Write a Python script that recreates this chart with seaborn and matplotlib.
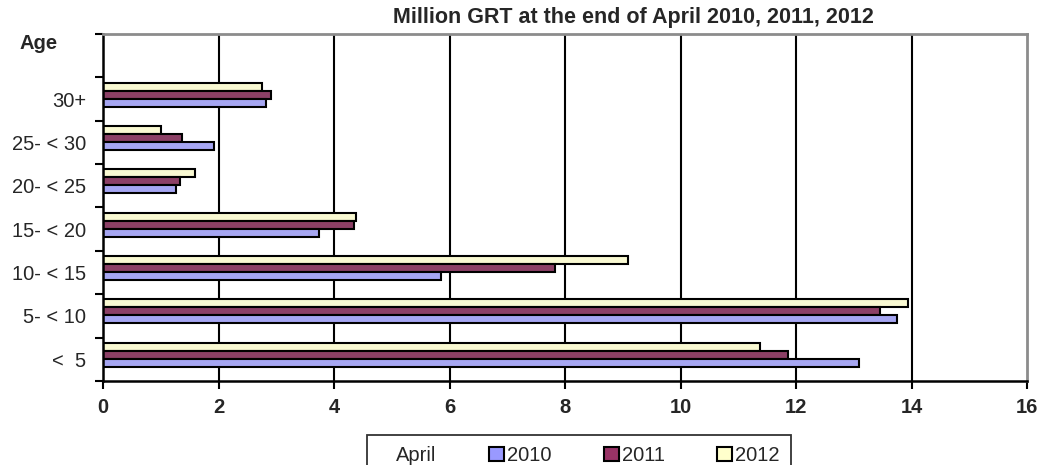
import matplotlib
matplotlib.use("Agg")
import matplotlib.pyplot as plt
import seaborn as sns
import pandas as pd
from matplotlib.patches import Patch

categories = ["30+", "25- < 30", "20- < 25", "15- < 20", "10- < 15", "5- < 10", "<  5"]
years = ["2010", "2011", "2012"]
v2010 = [2.82, 1.92, 1.26, 3.74, 5.85, 13.75, 13.09]
v2011 = [2.91, 1.37, 1.34, 4.34, 7.83, 13.45, 11.86]
v2012 = [2.75, 1.01, 1.59, 4.38, 9.09, 13.94, 11.38]
xticks = [0, 2, 4, 6, 8, 10, 12, 14, 16]
colors = {"2010": "#9999FF", "2011": "#993366", "2012": "#FFFFCC"}

rows = []
for yr, vals in zip(years, [v2010, v2011, v2012]):
    for c, v in zip(categories, vals):
        rows.append({"Age": c, "Year": yr, "GRT": v})
df = pd.DataFrame(rows)

sns.set_theme(style="white")
plt.rcParams["font.family"] = ["Liberation Sans", "DejaVu Sans"]

fig = plt.figure(figsize=(10.4, 4.65), dpi=100)
ax = fig.add_axes([103 / 1040, 1 - 381 / 465, (1027 - 103) / 1040, (381 - 34) / 465])

sns.barplot(data=df, y="Age", x="GRT", hue="Year", order=categories,
            hue_order=["2012", "2011", "2010"], palette=colors, orient="h",
            width=0.553, edgecolor="black", linewidth=1.5, ax=ax, legend=False)
for p in ax.patches:
    p.set_y(p.get_y() - 0.105)

ax.set_xlim(0, 16)
ax.set_ylim(6.5, -1.5)
ax.set_xticks(xticks)
ax.set_xticklabels([str(t) for t in xticks], fontweight="bold", fontsize=14.5)
ax.set_yticks(range(len(categories)))
ax.set_yticklabels(categories, fontsize=14.5)
ax.set_yticks([i - 0.5 for i in range(-1, len(categories) + 1)], minor=True)
ax.tick_params(axis="y", which="major", length=0, pad=12)
ax.tick_params(axis="y", which="minor", length=6, width=1.5, color="black", direction="out", left=True)
ax.tick_params(axis="x", which="major", length=6, width=1.5, color="black", direction="out", bottom=True, pad=6)
ax.set_xlabel("")
ax.set_ylabel("")
for x in xticks[1:-1]:
    ax.axvline(x, color="black", linewidth=1.5, zorder=0)
ax.spines["left"].set_color("black")
ax.spines["bottom"].set_color("black")
ax.spines["left"].set_linewidth(1.8)
ax.spines["bottom"].set_linewidth(1.8)
ax.spines["top"].set_color("#8c8c8c")
ax.spines["right"].set_color("#8c8c8c")
ax.spines["top"].set_linewidth(2)
ax.spines["right"].set_linewidth(2)

fig.text(633 / 1040, 1 - 18 / 465, "Million GRT at the end of April 2010, 2011, 2012",
         ha="center", va="center", fontweight="bold", fontsize=15.5)
fig.text(39 / 1040, 1 - 43 / 465, "Age", ha="center", va="center", fontweight="bold", fontsize=14.5)

handles = [Patch(facecolor="none", edgecolor="none")] + [
    Patch(facecolor=colors[y], edgecolor="black", linewidth=1.5) for y in years]
labels = ["April"] + years
leg = fig.legend(handles, labels, loc="upper center", bbox_to_anchor=(579 / 1040, 1 - 425 / 465),
                 ncol=4, fontsize=14.5, frameon=True, fancybox=False, handlelength=0.75,
                 handleheight=0.75, handletextpad=0.15, columnspacing=2.6, borderpad=0.55)
leg.get_frame().set_edgecolor("black")
leg.get_frame().set_linewidth(1.3)

fig.savefig("out.png", dpi=100)
